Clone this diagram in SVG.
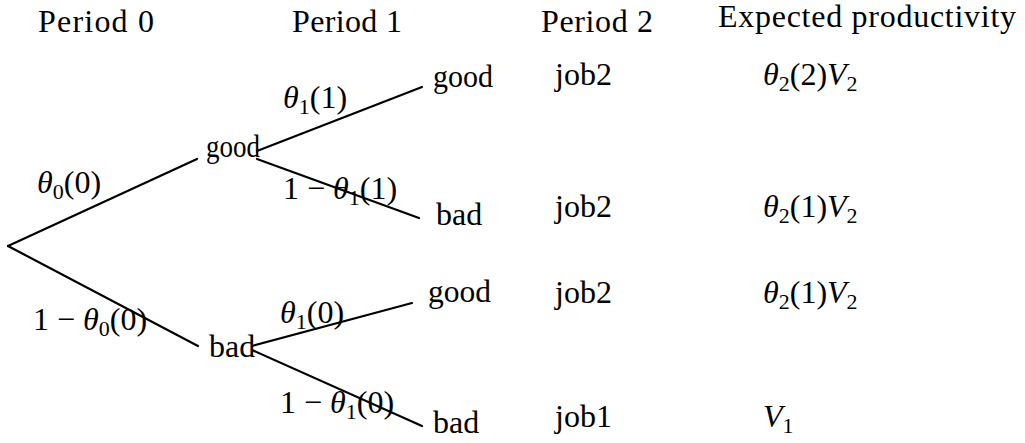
<svg xmlns="http://www.w3.org/2000/svg" width="1025" height="443" viewBox="0 0 1025 443">
<style>
text{font-family:"Liberation Serif","Times New Roman",serif;font-size:32px;fill:#000}
.it{font-style:italic}
.sub{font-size:22px}
line{stroke:#000;stroke-width:2.2;stroke-linecap:round}
</style>
<rect width="1025" height="443" fill="#fff"/>
<g id="headers">
<text x="38" y="32" textLength="116" lengthAdjust="spacing">Period 0</text>
<text x="292" y="32" textLength="110" lengthAdjust="spacing">Period 1</text>
<text x="541" y="32" textLength="112" lengthAdjust="spacing">Period 2</text>
<text x="718" y="27" font-size="31" textLength="298" lengthAdjust="spacing">Expected productivity</text>
</g>
<g id="connectors">
<line x1="8" y1="246" x2="197" y2="159"/>
<line x1="8" y1="246" x2="198" y2="346"/>
<line x1="257" y1="151" x2="422" y2="87"/>
<line x1="257" y1="159" x2="419" y2="218"/>
<line x1="252" y1="346" x2="412" y2="303"/>
<line x1="252" y1="350" x2="422" y2="426"/>
</g>
<g id="edge-labels">
<text x="37" y="193"><tspan class="it">θ</tspan><tspan class="sub" dy="6">0</tspan><tspan dy="-6">(0)</tspan></text>
<text x="33" y="330">1 − <tspan class="it">θ</tspan><tspan class="sub" dy="6">0</tspan><tspan dy="-6">(0)</tspan></text>
<text x="283" y="108"><tspan class="it">θ</tspan><tspan class="sub" dy="6">1</tspan><tspan dy="-6">(1)</tspan></text>
<text x="283" y="199">1 − <tspan class="it">θ</tspan><tspan class="sub" dy="6">1</tspan><tspan dy="-6">(1)</tspan></text>
<text x="280" y="323"><tspan class="it">θ</tspan><tspan class="sub" dy="6">1</tspan><tspan dy="-6">(0)</tspan></text>
<text x="280" y="413">1 − <tspan class="it">θ</tspan><tspan class="sub" dy="6">1</tspan><tspan dy="-6">(0)</tspan></text>
</g>
<g id="node-p1-good"><text x="206" y="157" textLength="54" lengthAdjust="spacingAndGlyphs">good</text></g>
<g id="node-p1-bad"><text x="209" y="357">bad</text></g>
<g id="node-gg"><text x="433" y="87" textLength="60" lengthAdjust="spacingAndGlyphs">good</text>
<text x="555" y="85">job2</text>
<text x="763" y="85"><tspan class="it">θ</tspan><tspan class="sub" dy="6">2</tspan><tspan dy="-6">(2)</tspan><tspan class="it">V</tspan><tspan class="sub" dy="6">2</tspan></text></g>
<g id="node-gb"><text x="436" y="225">bad</text>
<text x="555" y="217">job2</text>
<text x="763" y="217"><tspan class="it">θ</tspan><tspan class="sub" dy="6">2</tspan><tspan dy="-6">(1)</tspan><tspan class="it">V</tspan><tspan class="sub" dy="6">2</tspan></text></g>
<g id="node-bg"><text x="428" y="302" textLength="63" lengthAdjust="spacingAndGlyphs">good</text>
<text x="555" y="303">job2</text>
<text x="763" y="303"><tspan class="it">θ</tspan><tspan class="sub" dy="6">2</tspan><tspan dy="-6">(1)</tspan><tspan class="it">V</tspan><tspan class="sub" dy="6">2</tspan></text></g>
<g id="node-bb"><text x="433" y="433">bad</text>
<text x="555" y="427">job1</text>
<text x="763" y="427"><tspan class="it">V</tspan><tspan class="sub" dy="6">1</tspan></text></g>
</svg>
